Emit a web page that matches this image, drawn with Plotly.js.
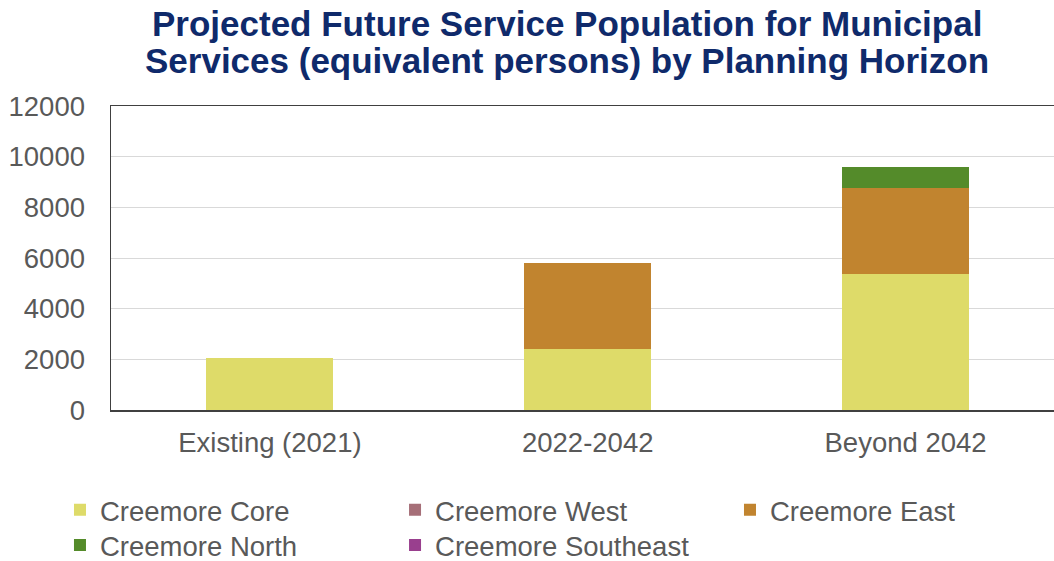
<!DOCTYPE html>
<html>
<head>
<meta charset="utf-8">
<script src="https://cdn.plot.ly/plotly-3.0.1.min.js"></script>
<style>html,body{margin:0;padding:0;background:#fff;}#chart{width:1054px;height:561px;}</style>
</head>
<body>
<div id="chart"></div>
<script>
const categories = ["Existing (2021)", "2022-2042", "Beyond 2042"];
const creemoreCore = [2040, 2400, 5350];
const creemoreWest = [0, 0, 0];
const creemoreEast = [0, 3400, 3400];
const creemoreNorth = [0, 0, 850];
const creemoreSoutheast = [0, 0, 0];
const yTicks = [0, 2000, 4000, 6000, 8000, 10000, 12000];
const titleLines = ["Projected Future Service Population for Municipal", "Services (equivalent persons) by Planning Horizon"];

const seriesNames = ["Creemore Core", "Creemore West", "Creemore East", "Creemore North", "Creemore Southeast"];
const seriesValues = [creemoreCore, creemoreWest, creemoreEast, creemoreNorth, creemoreSoutheast];
const seriesColors = ["#DEDB69", "#A66F78", "#C1842F", "#548B2A", "#993F8E"];
const seriesLegend = ["legend", "legend2", "legend3", "legend4", "legend5"];

const traces = seriesNames.map((n, i) => ({
  type: "bar",
  name: n,
  x: categories,
  y: seriesValues[i],
  legend: seriesLegend[i],
  marker: {color: seriesColors[i], line: {width: 0}},
  hoverinfo: "name+y"
}));

const font = {family: "Liberation Sans, Arial, sans-serif", color: "#595959", size: 27.5};
const titleFont = {family: "Liberation Sans, Arial, sans-serif", size: 35, color: "#0F2A6B"};

function legendAt(x, y) {
  return {
    orientation: "v", x: x, xanchor: "left", y: y, yanchor: "middle",
    traceorder: "normal", font: font, bgcolor: "rgba(0,0,0,0)",
    tracegroupgap: 0, itemclick: false, itemdoubleclick: false
  };
}

const layout = {
  width: 1054, height: 561,
  barmode: "stack",
  bargap: 0.6,
  paper_bgcolor: "#ffffff",
  plot_bgcolor: "#ffffff",
  margin: {l: 111, r: 0, t: 106, b: 151, autoexpand: false},
  font: font,
  annotations: titleLines.map((t, i) => ({
    text: "<b>" + t + "</b>",
    xref: "paper", yref: "paper",
    x: 0.4836, y: i === 0 ? 1.2698 : 1.150,
    xanchor: "center", yanchor: "middle",
    showarrow: false, font: titleFont
  })),
  xaxis: {
    type: "category",
    range: [-0.5, 2.467],
    showline: true, mirror: true, linecolor: "#404040", linewidth: 1.5,
    showgrid: false, ticks: "", ticklabelstandoff: 7,
    tickfont: font, fixedrange: true
  },
  yaxis: {
    range: [0, 12000],
    tickvals: yTicks,
    ticktext: yTicks.map(String),
    showline: true, linecolor: "#404040", linewidth: 1.5,
    showgrid: true, gridcolor: "#d9d9d9", gridwidth: 1,
    zeroline: false, ticks: "", ticklabelstandoff: 19,
    tickfont: font, fixedrange: true
  },
  legend: legendAt(-0.0541, -0.3289),
  legend2: legendAt(0.3012, -0.3289),
  legend3: legendAt(0.6564, -0.3289),
  legend4: legendAt(-0.0541, -0.4441),
  legend5: legendAt(0.3012, -0.4441),
  showlegend: true
};

Plotly.newPlot("chart", traces, layout, {displayModeBar: false, staticPlot: true});
</script>
</body>
</html>
